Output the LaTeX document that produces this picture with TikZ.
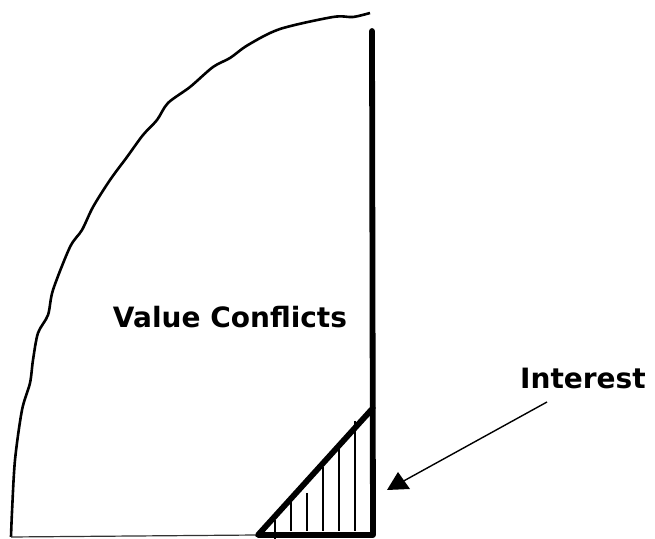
\documentclass[tikz,border=0pt]{standalone}
\usepackage{fontspec}
\setmainfont{DejaVu Sans}
\usetikzlibrary{arrows.meta,positioning}
\begin{document}
\begin{tikzpicture}[x=0.5pt, y=-0.5pt,
  font=\bfseries\fontsize{14}{16}\selectfont,
  rim/.style={black, line width=1.3pt, line join=round},
  wall/.style={black, line width=2.9pt, line cap=round, line join=round},
  hatch/.style={black, line width=0.8pt},
  pointer/.style={black, line width=0.7pt},
  lbl/.style={inner sep=0pt},
]
\useasboundingbox (0,0) rectangle (655,539);
% frame of the figure
\coordinate (top) at (372,31);
\coordinate (corner) at (373,535);
\coordinate (foot) at (258,535);
\coordinate (peak) at (373,408);
\coordinate (base) at (11,537);
% outer hand drawn arc
\draw[rim] plot[smooth, tension=0.5] coordinates {(11,537) (12,512) (15,460) (22,410) (30,383)
  (33,360) (38,333) (48,315) (53,290) (70,247) (82,230) (93,207) (110,180) (127,157)
  (143,135) (157,120) (168,103) (190,87) (213,67) (230,58) (248,45) (280,29) (333,17)
  (353,17) (370,13)};
\draw[black!80, line width=0.6pt] (base) -- (foot);
% hatched wedge
\foreach \x/\t/\b in {275/520/539, 291/495/531, 307/493/531, 323/467/531, 339/448/531, 355/421/531}
  \draw[hatch] (\x,\t) -- (\x,\b);
\draw[wall] (top) -- (corner) -- (foot) -- (peak);
% labels
\node[lbl] (vc) at (230,317) {Value Conflicts};
\node[lbl] (int) at (583,378) {Interest};
\coordinate (from) at (547,402);
\coordinate (tip) at (400,483);
\draw[pointer] (from) -- (tip);
\fill (398,472) -- (387,490) -- (410,489) -- cycle;
\end{tikzpicture}
\end{document}
